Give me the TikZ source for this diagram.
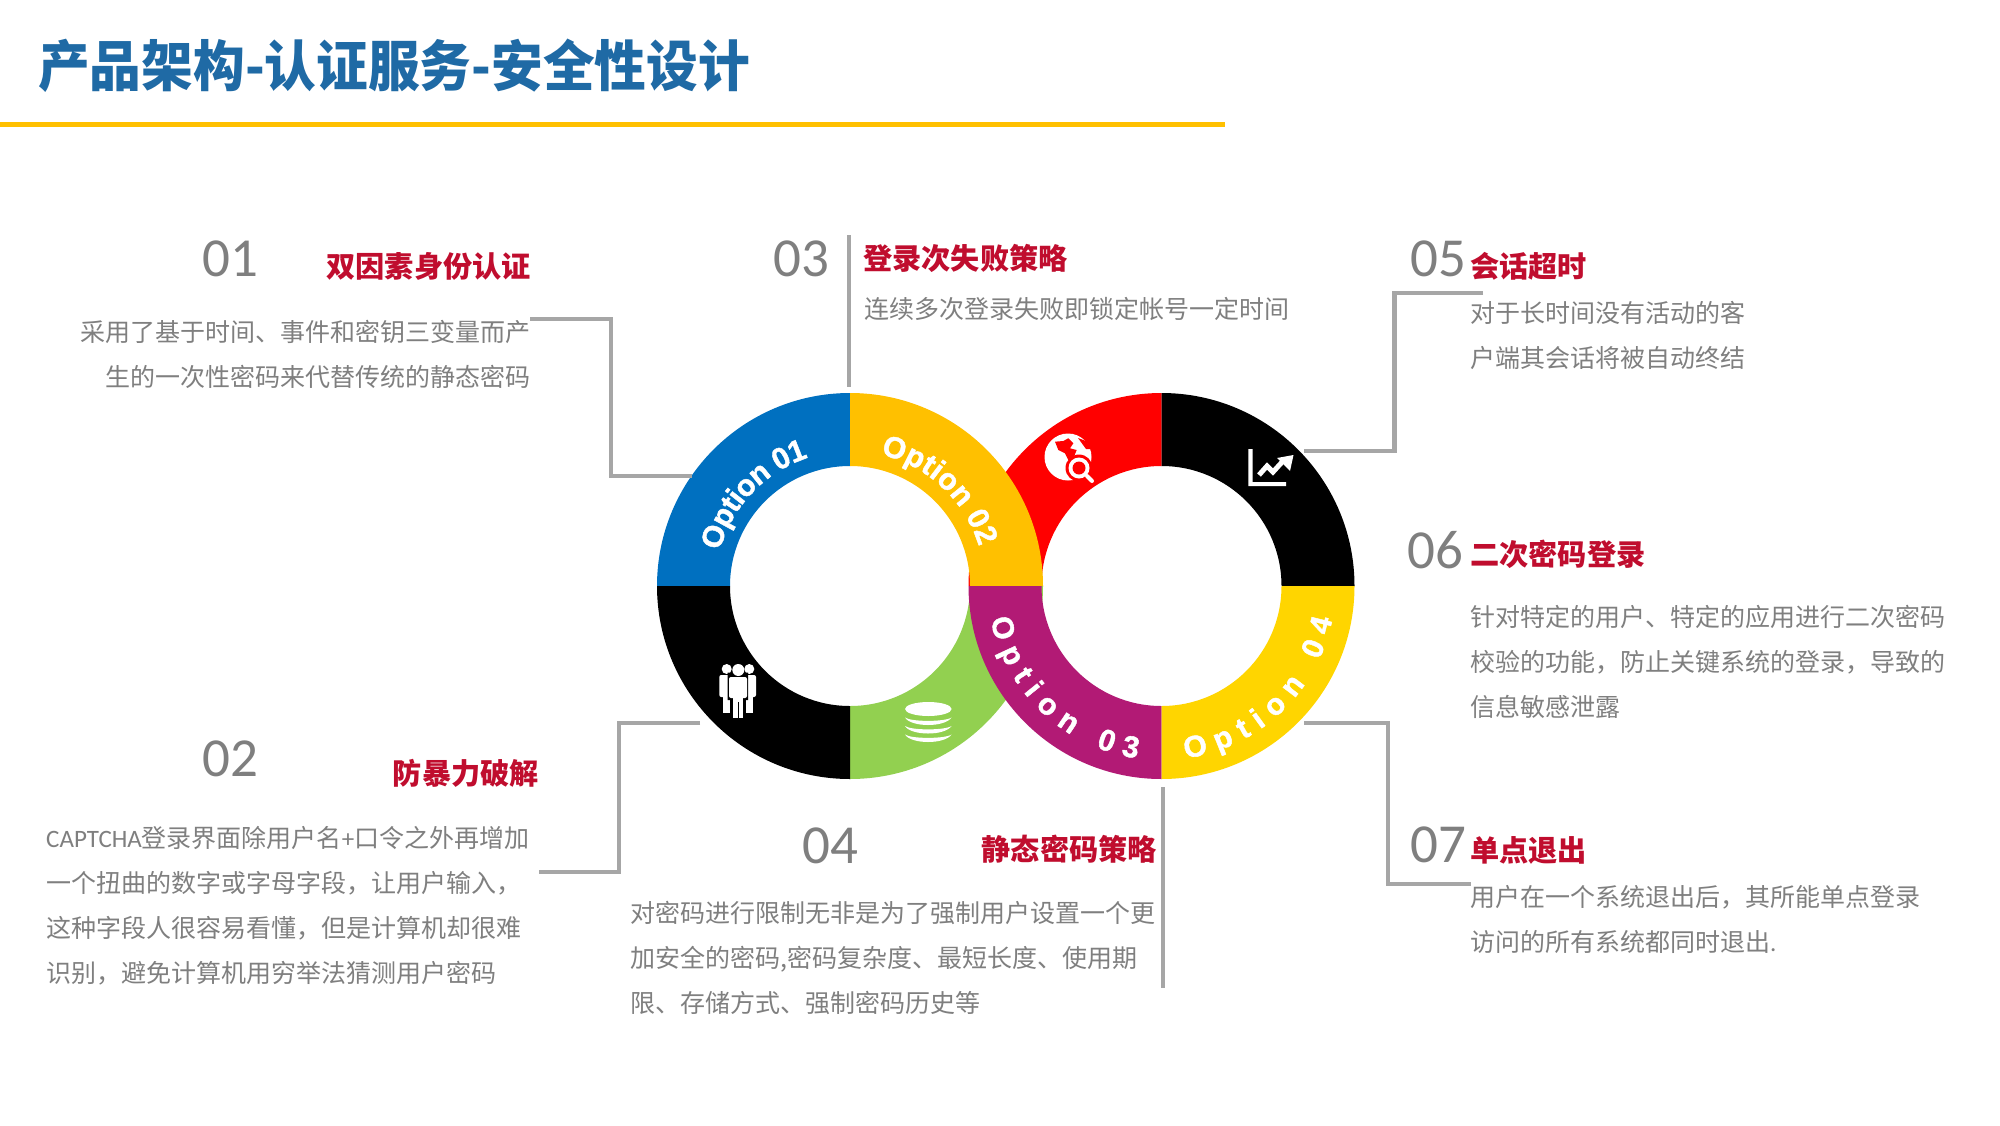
\documentclass[tikz,border=0pt]{standalone}
\usepackage{fontspec}
\setmainfont{Noto Sans CJK SC}
\newfontfamily\latinfont{Carlito}
\newfontfamily\optfont[UprightFont=* Bold,FakeBold=1.5]{Liberation Sans}
\definecolor{titleblue}{HTML}{1F6AA5}
\definecolor{ruleyellow}{HTML}{FFC000}
\definecolor{headred}{HTML}{C00D2E}
\definecolor{bodygrey}{HTML}{7F7F7F}
\definecolor{connGrey}{HTML}{A6A6A6}
\definecolor{segblue}{HTML}{0070C0}
\definecolor{segorange}{HTML}{FFC000}
\definecolor{segred}{HTML}{FF0000}
\definecolor{segpurple}{HTML}{B21A75}
\definecolor{segyellow}{HTML}{FFD500}
\definecolor{seggreen}{HTML}{92D050}
\tikzset{
  numlabel/.style={anchor=base west,inner sep=0,text=bodygrey,font={\latinfont\fontsize{55}{55}\selectfont}},
  headlabel/.style={inner sep=0,text=headred,font={\bfseries\fontsize{29.2}{29.2}\selectfont}},
  bodytext/.style={inner sep=0,text=bodygrey,font={\fontsize{25}{45}\selectfont}},
  optchar/.style={anchor=base,inner sep=0,text=white,font={\optfont\fontsize{30}{30}\selectfont}},
  conn/.style={draw=connGrey,line width=4.5pt,miter limit=10},
}
% visual angles, counter-clockwise from east; y axis of the picture runs down
\newcommand\ringseg[4]{\fill[#4] ([shift={(#1)}]-#2:193) arc[start angle=-#2,end angle=-#3,radius=193]
  -- ([shift={(#1)}]-#3:120) arc[start angle=-#3,end angle=-#2,radius=120] -- cycle;}
% centre, baseline radius, start angle, end angle, rotation offset, last digit, name prefix
\newcommand\optarc[7]{%
  \pgfmathsetmacro\optarclen{abs(#4-#3)*pi/180*#2}%
  \pgfmathsetmacro\optgap{(\optarclen/30-4.612)/8}%
  \foreach \ch/\cc/\ii in {O/.389/0,p/1.0835/1,t/1.5525/2,i/1.8575/3,o/2.3055/4,n/2.9165/5,0/3.778/7,#6/4.334/8}{%
    \pgfmathsetmacro\optang{#3+(#4-#3)*(\cc+\ii*\optgap)/(4.612+8*\optgap)}%
    \pgfmathsetmacro\optrot{\optang+#5}%
    \node[optchar,rotate=\optrot] (#7\ii) at ([shift={(#1)}]-\optang:#2) {\ch};
  }}
\begin{document}
\begin{tikzpicture}[x=1pt,y=-1pt]
\path[use as bounding box,fill=white] (0,0) rectangle (2000,1125);

% title
\node[anchor=base west,inner sep=0,text=titleblue,font={\bfseries\fontsize{55}{55}\selectfont}] (title) at (38,86) {\scalebox{0.94}[1]{产品架构-认证服务-安全性设计}};
\coordinate (ruleA) at (0,124.7); \coordinate (ruleB) at (1225,124.7);
\draw[ruleyellow,line width=4.5pt] (ruleA) -- (ruleB);

% rings
\coordinate (LC) at (850,586);
\coordinate (RC) at (1161.5,586);
\ringseg{LC}{270}{360}{seggreen}
\ringseg{RC}{90}{180}{segred}
\ringseg{LC}{90}{180}{segblue}
\ringseg{LC}{180}{270}{black}
\ringseg{LC}{0}{90}{segorange}
\ringseg{RC}{0}{90}{black}
\ringseg{RC}{180}{270}{segpurple}
\ringseg{RC}{270}{360}{segyellow}

\optarc{LC}{135}{165}{108}{-90}{1}{optA}
\optarc{LC}{135}{77}{17}{-90}{2}{optB}
\optarc{RC}{174}{191}{262}{90}{3}{optC}
\optarc{RC}{174}{278}{349}{90}{4}{optD}

% globe icon
\fill[white] (1068,457) circle[radius=23.5];
\fill[segred] (1055,441.7) -- (1063.3,441) -- (1068.3,438.3) -- (1073.3,443.3) -- (1070,448.3) -- (1076.7,450)
  -- (1073.3,458.3) -- (1068.3,460) -- (1065,453.3) -- (1058.3,450) -- cycle;
\fill[segred] (1078,438) -- (1086,441) -- (1092,449) -- (1086,449) -- cycle;
\fill[segred] (1079,468) circle[radius=13.5];
\fill[white] (1079,468) circle[radius=10.5];
\fill[segred] (1079,468) circle[radius=6.5];
\draw[white,line width=4pt,line cap=round] (1087,476) -- (1092,481);

% chart icon
\fill[white] (1248.3,449) rectangle (1252.7,486) (1248.3,482) rectangle (1286,486);
\draw[white,line width=5pt,miter limit=10] (1259,475) -- (1267,466) -- (1273,472) -- (1283,461);
\fill[white] (1293.5,455) -- (1277,458) -- (1290,471) -- cycle;

% people icon
\fill[white] (726.7,669) circle[radius=5] (749.3,669) circle[radius=5];
\fill[white,rounded corners=2pt] (719.3,697) -- (719.3,675) -- (734,675) -- (734,697) -- cycle;
\fill[white] (723,695) rectangle (730,713);
\fill[white,rounded corners=2pt] (742,697) -- (742,675) -- (756,675) -- (756,697) -- cycle;
\fill[white] (746,695) rectangle (752.7,713);
\fill[black] (727.5,672.5) rectangle (748,700) (730.5,700) rectangle (745.5,718);
\fill[white] (738.3,670) circle[radius=6];
\fill[white,rounded corners=2pt] (729,698) -- (729,677) -- (747,677) -- (747,698) -- cycle;
\fill[white] (733,696) rectangle (743,718);
\draw[black,line width=1pt] (738,702) -- (738,718);

% database icon
\fill[white] (928.3,709) ellipse[x radius=23.3,y radius=7];
\foreach \yy in {717.5,726,734.5}{
  \fill[white] (905,\yy) .. controls (911,\yy+10) and (945,\yy+10) .. (951.5,\yy)
    .. controls (945,\yy+4.5) and (911,\yy+4.5) .. (905,\yy);
}

% 01
\node[numlabel] (n01) at (202,276) {01};
\node[headlabel,anchor=base east] (h01) at (531,277) {双因素身份认证};
\node[bodytext,anchor=base east,align=right] (b01) at (531,386) {采用了基于时间、事件和密钥三变量而产\\生的一次性密码来代替传统的静态密码};
% 02
\node[numlabel] (n02) at (202,776) {02};
\node[headlabel,anchor=base east] (h02) at (539,784) {防暴力破解};
\node[bodytext,anchor=base west,align=left] (b02) at (46,982) {{\latinfont CAPTCHA}登录界面除用户名{\latinfont +}口令之外再增加\\一个扭曲的数字或字母字段，让用户输入，\\这种字段人很容易看懂，但是计算机却很难\\识别，避免计算机用穷举法猜测用户密码};
% 03
\node[numlabel] (n03) at (773,276) {03};
\node[headlabel,anchor=base west] (h03) at (863,269) {登录次失败策略};
\node[bodytext,anchor=base west] (b03) at (864,318) {连续多次登录失败即锁定帐号一定时间};
% 04
\node[numlabel] (n04) at (802,863) {04};
\node[headlabel,anchor=base east] (h04) at (1157,860) {静态密码策略};
\node[bodytext,anchor=base west,align=left] (b04) at (630,1012) {对密码进行限制无非是为了强制用户设置一个更\\加安全的密码,密码复杂度、最短长度、使用期\\限、存储方式、强制密码历史等};
% 05
\node[numlabel] (n05) at (1410,276) {05};
\node[headlabel,anchor=base west] (h05) at (1470,277) {会话超时};
\node[bodytext,anchor=base west,align=left] (b05) at (1470,367) {对于长时间没有活动的客\\户端其会话将被自动终结};
% 06
\node[numlabel] (n06) at (1407,568) {06};
\node[headlabel,anchor=base west] (h06) at (1470,565) {二次密码登录};
\node[bodytext,anchor=base west,align=left] (b06) at (1470,716) {针对特定的用户、特定的应用进行二次密码\\校验的功能，防止关键系统的登录，导致的\\信息敏感泄露};
% 07
\node[numlabel] (n07) at (1410,862) {07};
\node[headlabel,anchor=base west] (h07) at (1470,861) {单点退出};
\node[bodytext,anchor=base west,align=left] (b07) at (1470,951) {用户在一个系统退出后，其所能单点登录\\访问的所有系统都同时退出{\latinfont .}};

% connectors
\coordinate (c1a) at (530,319);  \coordinate (c1b) at (611,319);  \coordinate (c1c) at (611,476);  \coordinate (c1d) at (692,476);
\coordinate (c2a) at (700,723);  \coordinate (c2b) at (619,723);  \coordinate (c2c) at (619,872);  \coordinate (c2d) at (539,872);
\coordinate (c3a) at (849,235);  \coordinate (c3b) at (849,387);
\coordinate (c4a) at (1163,787); \coordinate (c4b) at (1163,988);
\coordinate (c5a) at (1483,293); \coordinate (c5b) at (1394.5,293); \coordinate (c5c) at (1394.5,451); \coordinate (c5d) at (1304,451);
\coordinate (c7a) at (1304,723); \coordinate (c7b) at (1388,723); \coordinate (c7c) at (1388,884); \coordinate (c7d) at (1471,884);
\draw[conn] (c1a) -- (c1b) -- (c1c) -- (c1d);
\draw[conn] (c2a) -- (c2b) -- (c2c) -- (c2d);
\draw[conn] (c3a) -- (c3b);
\draw[conn] (c4a) -- (c4b);
\draw[conn] (c5a) -- (c5b) -- (c5c) -- (c5d);
\draw[conn] (c7a) -- (c7b) -- (c7c) -- (c7d);
\end{tikzpicture}
\end{document}
